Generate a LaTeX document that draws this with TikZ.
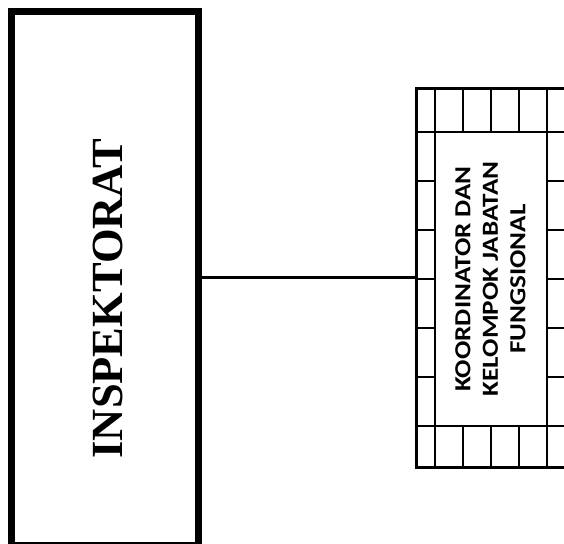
\documentclass[tikz,border=0pt]{standalone}
\usepackage{fontspec}
\newfontfamily\serifb{Liberation Serif}
\newfontfamily\carl[FakeStretch=1.18]{Carlito}
\begin{document}
\begin{tikzpicture}[x=1pt,y=-1pt,
  thickbox/.style={draw, line width=7pt, inner sep=0pt, outer sep=0pt},
  gridframe/.style={draw, line width=3pt, inner sep=0pt, outer sep=0pt},
  gridline/.style={line width=2pt},
  link/.style={line width=3pt}]
\useasboundingbox (0,0) rectangle (564,543);
% left box
\node[thickbox, minimum width=186.5pt, minimum height=533.5pt] (insp) at (104.75,278.25) {};
\node[rotate=90, font=\serifb\bfseries\fontsize{44.5}{50}\selectfont, inner sep=0pt] (insptext) at (107.5,298.5) {INSPEKTORAT};
% right box
\node[gridframe, minimum width=150.3pt, minimum height=378.3pt] (kjf) at (491.85,277.85) {};
\node[draw, gridline, inner sep=0pt, outer sep=0pt, minimum width=112pt, minimum height=294pt] (inner) at (491,279) {};
% grid lines
\foreach \xx in {463,491,519}{
  \draw[gridline] (\xx,88.7) -- (\xx,132);
  \draw[gridline] (\xx,426) -- (\xx,467);
}
\draw[gridline] (416.7,132) -- (567,132);
\draw[gridline] (416.7,426) -- (567,426);
\foreach \yy in {181,230,279,328,377}{
  \draw[gridline] (416.7,\yy) -- (435,\yy);
  \draw[gridline] (547,\yy) -- (567,\yy);
}
\draw[gridline] (435,88.7) -- (435,467);
\draw[gridline] (547,88.7) -- (547,467);
\node[rotate=90, align=center, inner sep=0pt, font=\carl\bfseries\fontsize{23}{27.5}\selectfont] (kjftext) at (490.5,279) {KOORDINATOR DAN\\KELOMPOK JABATAN\\FUNGSIONAL};
% connector
\draw[link] (insp.east |- 0,277) -- (kjf.west |- 0,277);
\end{tikzpicture}
\end{document}
